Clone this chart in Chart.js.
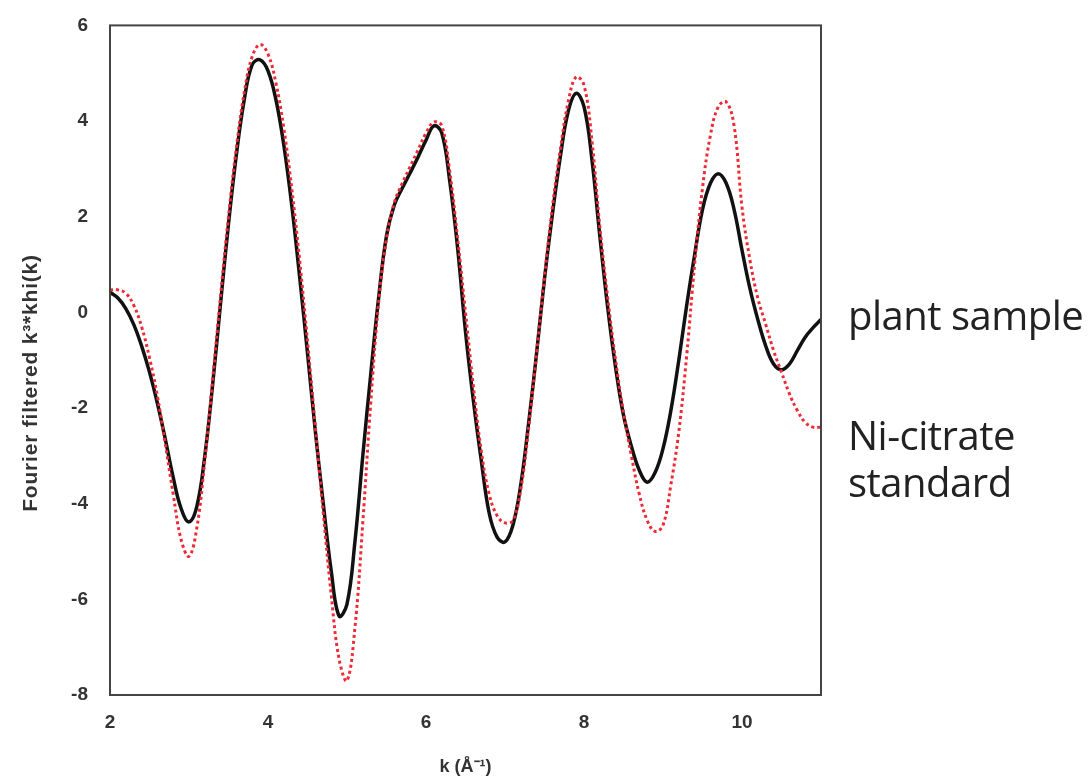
<!DOCTYPE html>
<html>
<head>
<meta charset="utf-8">
<script src="https://cdn.jsdelivr.net/npm/chart.js@4"></script>
<style>
  body { margin: 0; background: #fff; }
  #wrap { position: relative; width: 1090px; height: 782px; }
  .note { position: absolute; font-family: "Open Sans", sans-serif; font-size: 40px; letter-spacing: -0.5px; color: #222; line-height: 47px; white-space: nowrap; }
</style>
</head>
<body>
<div id="wrap">
  <canvas id="exafs" width="1090" height="782"></canvas>
  <div class="note" style="left:848px; top:291px;">plant sample</div>
  <div class="note" style="left:848px; top:411px;">Ni-citrate<br>standard</div>
</div>
<script>
// k values (Å^-1)
const kValues = [2.0,2.1,2.2,2.3,2.4,2.5,2.6,2.7,2.8,2.9,3.0,3.1,3.2,3.3,3.4,3.5,3.6,3.7,3.8,3.9,
  4.0,4.1,4.2,4.3,4.4,4.5,4.6,4.7,4.8,4.9,5.0,5.1,5.2,5.3,5.4,5.5,5.6,5.7,5.8,5.9,
  6.0,6.1,6.2,6.3,6.4,6.5,6.6,6.7,6.8,6.9,7.0,7.1,7.2,7.3,7.4,7.5,7.6,7.7,7.8,7.9,
  8.0,8.1,8.2,8.3,8.4,8.5,8.6,8.7,8.8,8.9,9.0,9.1,9.2,9.3,9.4,9.5,9.6,9.7,9.8,9.9,
  10.0,10.1,10.2,10.3,10.4,10.5,10.6,10.7,10.8,10.9,11.0];

// plant sample (black solid)
const plantSample = [0.42,0.30,0.08,-0.25,-0.70,-1.25,-1.90,-2.65,-3.45,-4.10,-4.38,-4.05,-3.00,-1.50,0.20,1.85,3.30,4.45,5.18,5.28,
  5.05,4.45,3.50,2.25,0.75,-0.85,-2.50,-4.00,-5.40,-6.35,-6.10,-4.80,-3.00,-1.30,0.30,1.60,2.25,2.60,2.92,3.25,
  3.60,3.90,3.75,2.75,1.35,-0.40,-1.85,-3.10,-4.20,-4.70,-4.80,-4.45,-3.60,-2.30,-0.85,0.70,2.05,3.25,4.20,4.58,
  4.30,3.20,1.60,0.10,-1.15,-2.15,-2.80,-3.30,-3.55,-3.35,-2.85,-2.05,-1.00,0.15,1.20,2.15,2.70,2.90,2.70,2.15,
  1.30,0.50,-0.15,-0.70,-1.08,-1.20,-1.08,-0.80,-0.52,-0.32,-0.15];

// Ni-citrate standard (red dotted)
const niCitrate = [0.47,0.47,0.40,0.15,-0.30,-0.95,-1.75,-2.75,-3.80,-4.75,-5.10,-4.50,-3.10,-1.40,0.35,2.00,3.45,4.60,5.35,5.60,
  5.40,4.80,3.85,2.60,1.10,-0.60,-2.40,-4.20,-5.90,-7.25,-7.70,-6.60,-4.40,-1.90,0.20,1.55,2.30,2.70,3.05,3.40,
  3.75,3.98,3.90,2.95,1.55,0.00,-1.55,-2.90,-3.80,-4.25,-4.40,-4.35,-3.70,-2.40,-0.85,0.75,2.20,3.40,4.40,4.92,
  4.75,3.60,1.80,0.30,-1.00,-2.10,-3.00,-3.80,-4.35,-4.58,-4.45,-3.60,-2.50,-0.90,1.00,2.60,3.70,4.30,4.40,3.90,
  2.20,1.10,0.30,-0.25,-0.80,-1.25,-1.70,-2.05,-2.30,-2.40,-2.40];

const xTicks = [2, 4, 6, 8, 10];
const yTicks = [-8, -6, -4, -2, 0, 2, 4, 6];

const toPoints = ys => kValues.map((k, i) => ({ x: k, y: ys[i] }));

const boldFont = size => ({ family: '"Liberation Sans", Arial, sans-serif', size: size, weight: 'bold' });

// box around the plot and the rotated y-axis title
const frame = {
  id: 'frame',
  afterDraw(chart) {
    const { ctx, chartArea: a } = chart;
    ctx.save();
    ctx.strokeStyle = '#444';
    ctx.lineWidth = 2;
    ctx.strokeRect(a.left, a.top, a.right - a.left, a.bottom - a.top);
    ctx.translate(31, 383);
    ctx.rotate(-Math.PI / 2);
    ctx.fillStyle = '#333';
    ctx.font = 'bold 21px "Liberation Sans", Arial, sans-serif';
    ctx.letterSpacing = '0.8px';
    ctx.textAlign = 'center';
    ctx.textBaseline = 'middle';
    ctx.fillText('Fourier filtered k³*khi(k)', 0, 0);
    ctx.restore();
  }
};

new Chart(document.getElementById('exafs'), {
  type: 'line',
  data: {
    datasets: [{
      label: 'plant sample',
      data: toPoints(plantSample),
      borderColor: '#111',
      borderWidth: 3.5,
      pointRadius: 0,
      tension: 0.4,
      order: 2
    }, {
      label: 'Ni-citrate standard',
      data: toPoints(niCitrate),
      borderColor: '#ee2a35',
      borderWidth: 3,
      borderDash: [3, 3],
      pointRadius: 0,
      tension: 0.4,
      order: 1
    }]
  },
  options: {
    responsive: false,
    animation: false,
    layout: { padding: { top: 22, right: 269, left: 0, bottom: 0 } },
    plugins: { legend: { display: false }, tooltip: { enabled: false } },
    scales: {
      x: {
        type: 'linear', min: 2, max: 11,
        afterBuildTicks: s => { s.ticks = xTicks.map(v => ({ value: v })); },
        afterFit: s => { s.height = 87; },
        grid: { display: false },
        border: { display: false },
        ticks: { color: '#333', font: boldFont(19), padding: 8 },
        title: {
          display: true, text: 'k (Å⁻¹)', color: '#333',
          font: boldFont(18),
          padding: { top: 14 }
        }
      },
      y: {
        min: -8, max: 6,
        afterBuildTicks: s => { s.ticks = yTicks.map(v => ({ value: v })); },
        afterFit: s => { s.width = 110; },
        grid: { display: false },
        border: { display: false },
        ticks: { color: '#333', font: boldFont(19), padding: 14 }
      }
    }
  },
  plugins: [frame]
});
</script>
</body>
</html>
